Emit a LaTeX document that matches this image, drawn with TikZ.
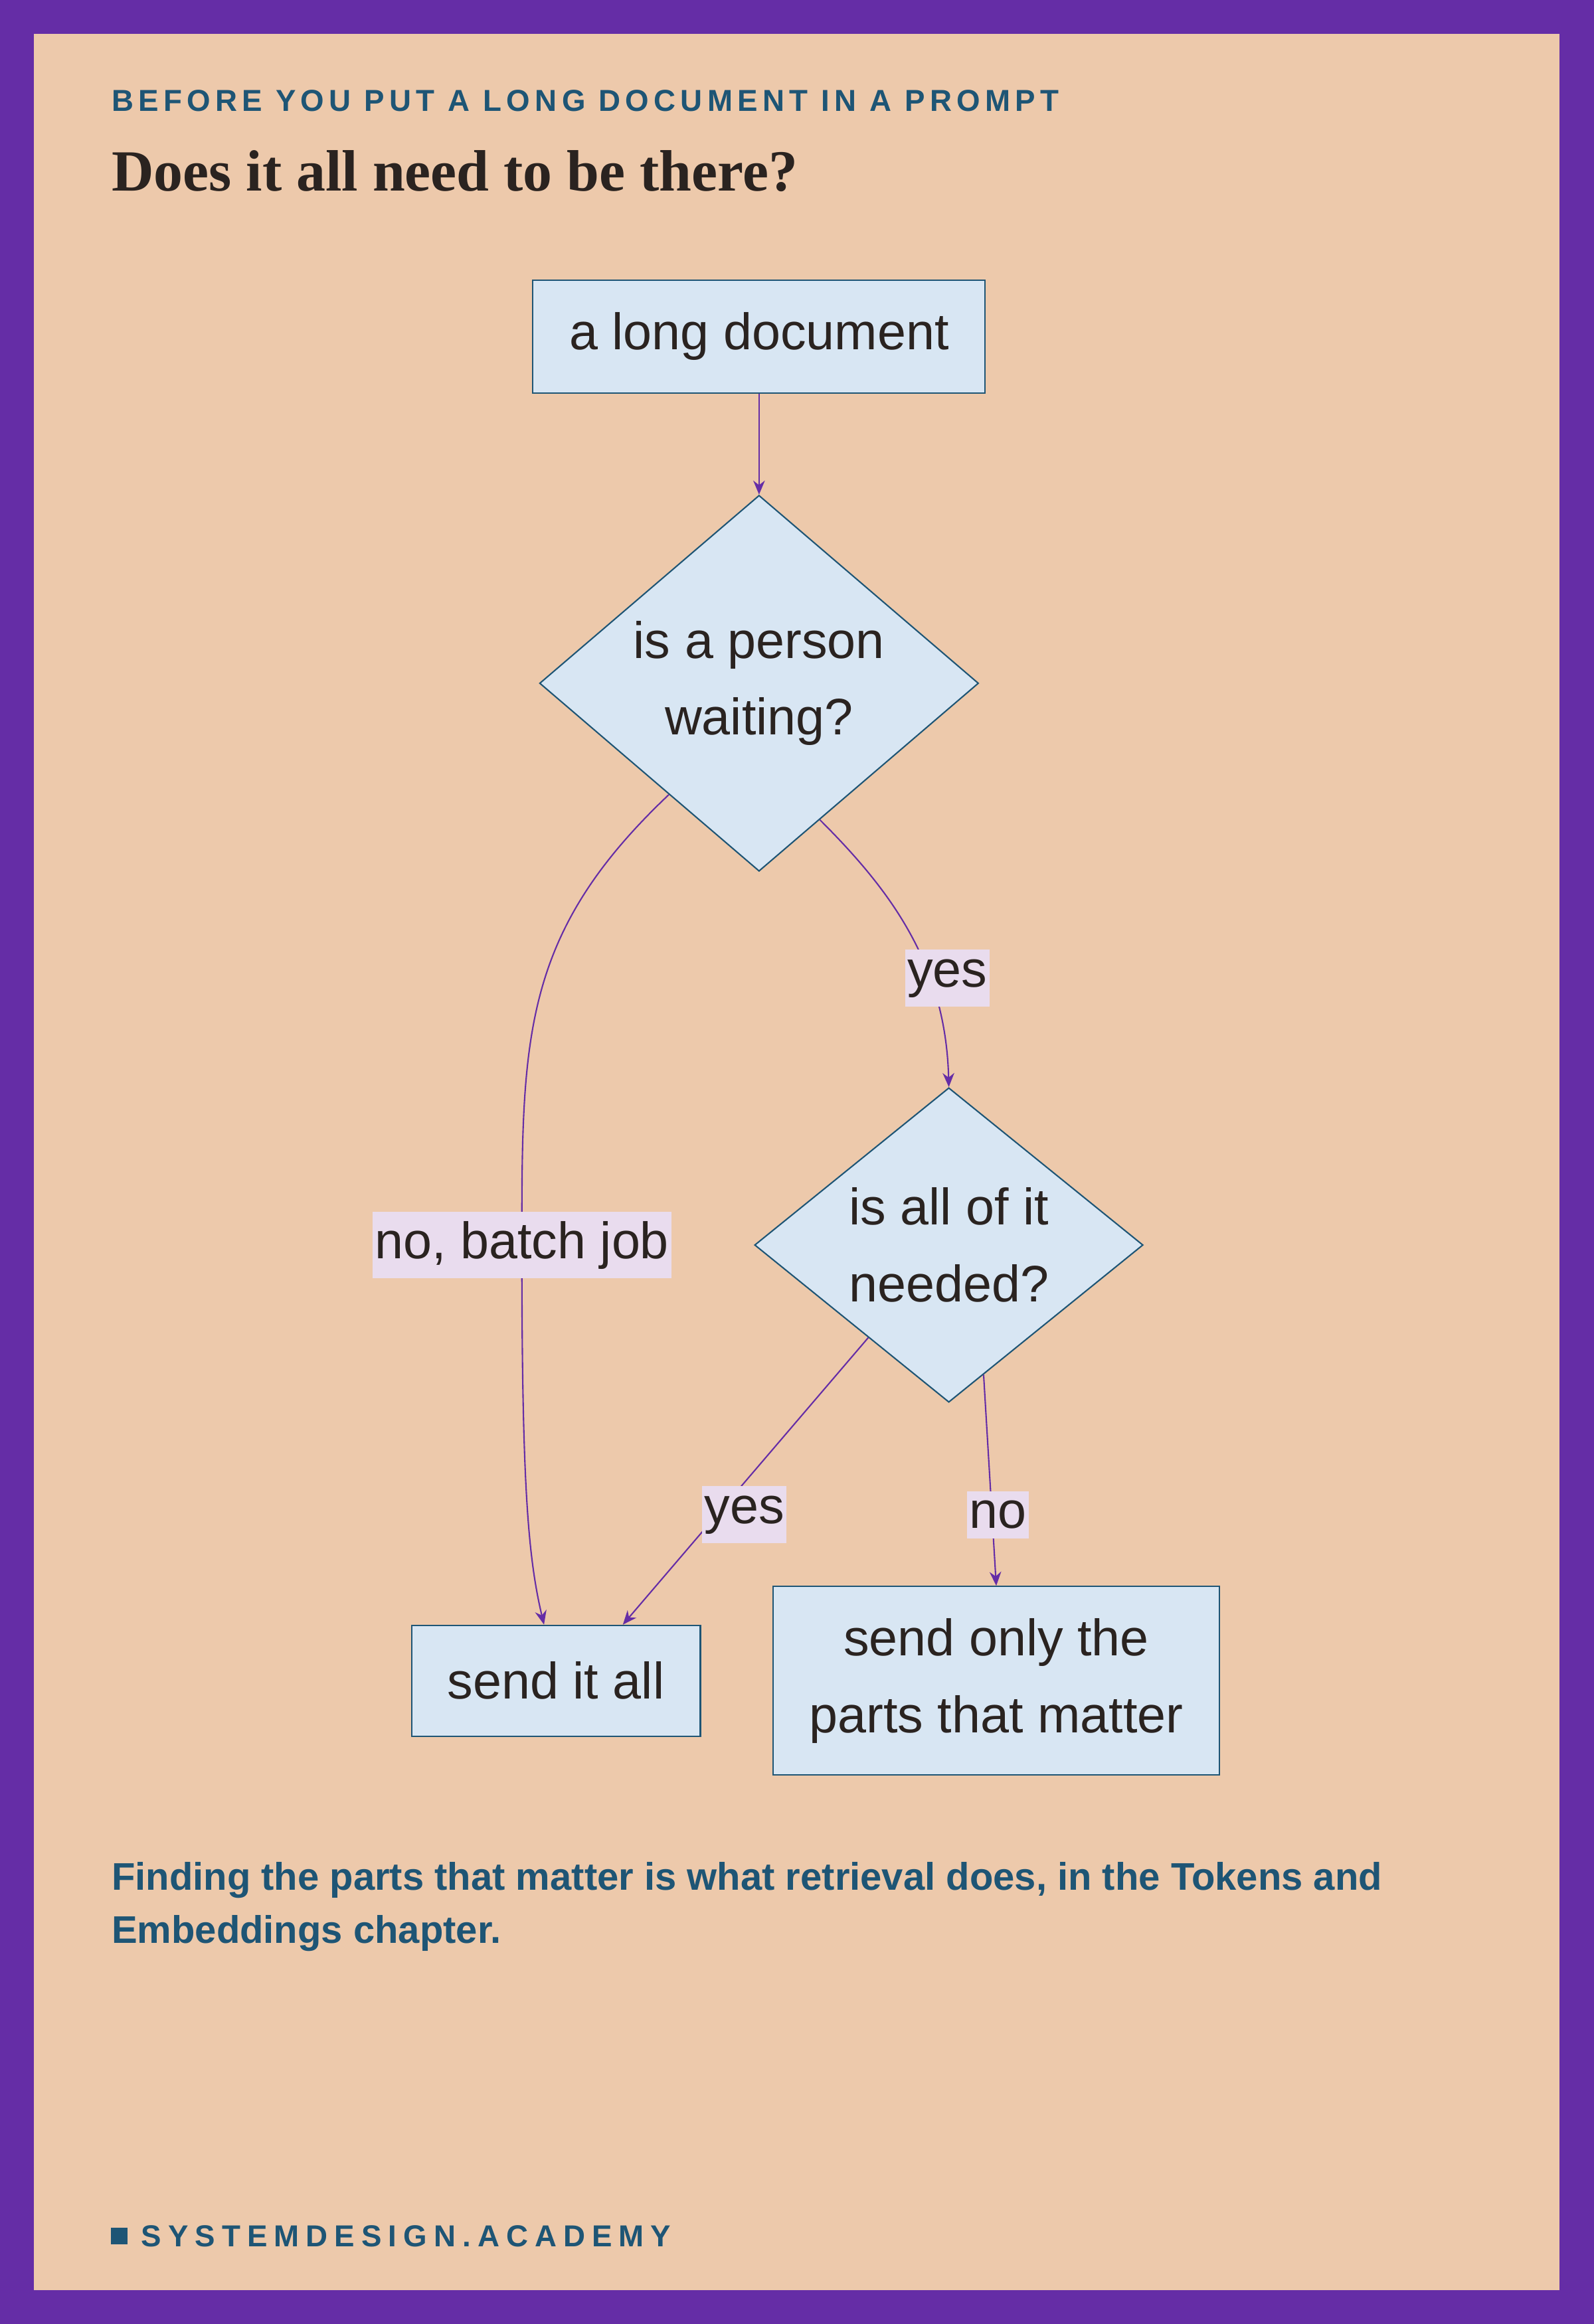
\documentclass[tikz,border=0pt]{standalone}
\usepackage{fontspec}
\setmainfont{Liberation Serif}
\setsansfont{Liberation Sans}
\usetikzlibrary{shapes.geometric,arrows.meta}
\definecolor{frame}{HTML}{652DA6}
\definecolor{bg}{HTML}{EDC9AB}
\definecolor{ink}{HTML}{1E5575}
\definecolor{dark}{HTML}{2A2320}
\definecolor{boxfill}{HTML}{D8E6F3}
\definecolor{labfill}{HTML}{E9DCEE}
\begin{document}
\begin{tikzpicture}[x=0.022326cm,y=-0.022326cm,
  box/.style={draw=ink,line width=0.6pt,fill=boxfill,rectangle,inner sep=0pt,align=center,
    font=\sffamily\fontsize{22}{33}\selectfont,text=dark},
  dia/.style={draw=ink,line width=0.6pt,fill=boxfill,diamond,aspect=1,inner sep=0pt,align=center,
    font=\sffamily\fontsize{22}{33}\selectfont,text=dark},
  edge/.style={draw=frame,line width=0.6pt,-{Stealth[length=6pt,width=5pt]}},
  lab/.style={fill=labfill,inner xsep=1pt,inner ysep=4pt,font=\sffamily\fontsize{22}{26}\selectfont,text=dark}]
\fill[frame] (0,0) rectangle (1075,1568);
\fill[bg] (23,23) rectangle (1052,1545);
\useasboundingbox (0,0) rectangle (1075,1568);
\node[anchor=base west,inner sep=0pt,text=ink,font=\sffamily\bfseries\fontsize{13}{15}\selectfont\addfontfeatures{LetterSpace=16}] (sub) at (75,75) {BEFORE YOU PUT A LONG DOCUMENT IN A PROMPT};
\node[anchor=base west,inner sep=0pt,text=dark,font=\rmfamily\bfseries\fontsize{25}{30}\selectfont] (title) at (75,129) {Does it all need to be there?};
\node[box,minimum width=6.81cm,minimum height=1.70cm] (doc) at (512,227) {a long document};
\node[dia,minimum width=6.61cm] (d1) at (512,461) {is a person\\waiting?};
\node[dia,minimum width=5.85cm] (d2) at (640,840) {is all of it\\needed?};
\node[box,minimum width=4.35cm,minimum height=1.67cm] (all) at (375,1134) {send it all};
\node[box,minimum width=6.72cm,minimum height=2.84cm] (only) at (672,1134) {send only the\\parts that matter};
\draw[edge] (doc) -- (d1);
\draw[edge] (d1.-129) .. controls (352,630) and (352,700) .. (352,840) .. controls (352,1000) and (356,1050) .. (all.102);
\draw[edge] (d1.-66) .. controls (600,600) and (638,650) .. (d2.north);
\draw[edge] (d2.-131) -- (all.40);
\draw[edge] (d2.-75) -- (only.north);
\node[lab] (l1) at (352,840) {no, batch job};
\node[lab] (l2) at (639,660) {yes};
\node[lab] (l3) at (502,1022) {yes};
\node[lab] (l4) at (673,1022) {no};
\node[anchor=base west,inner sep=0pt,text=ink,align=left,font=\sffamily\bfseries\fontsize{16.5}{22.7}\selectfont] (cap) at (75,1278) {};
\node[anchor=north west,inner sep=0pt,text=ink,align=left,font=\sffamily\bfseries\fontsize{16.5}{22.7}\selectfont] (cap2) at (75,1256) {Finding the parts that matter is what retrieval does, in the Tokens and\\Embeddings chapter.};
\fill[ink] (75,1503) rectangle (86,1514);
\node[anchor=base west,inner sep=0pt,text=ink,font=\sffamily\bfseries\fontsize{13}{15}\selectfont\addfontfeatures{LetterSpace=22}] (foot) at (95,1516) {SYSTEMDESIGN.ACADEMY};
\end{tikzpicture}
\end{document}
